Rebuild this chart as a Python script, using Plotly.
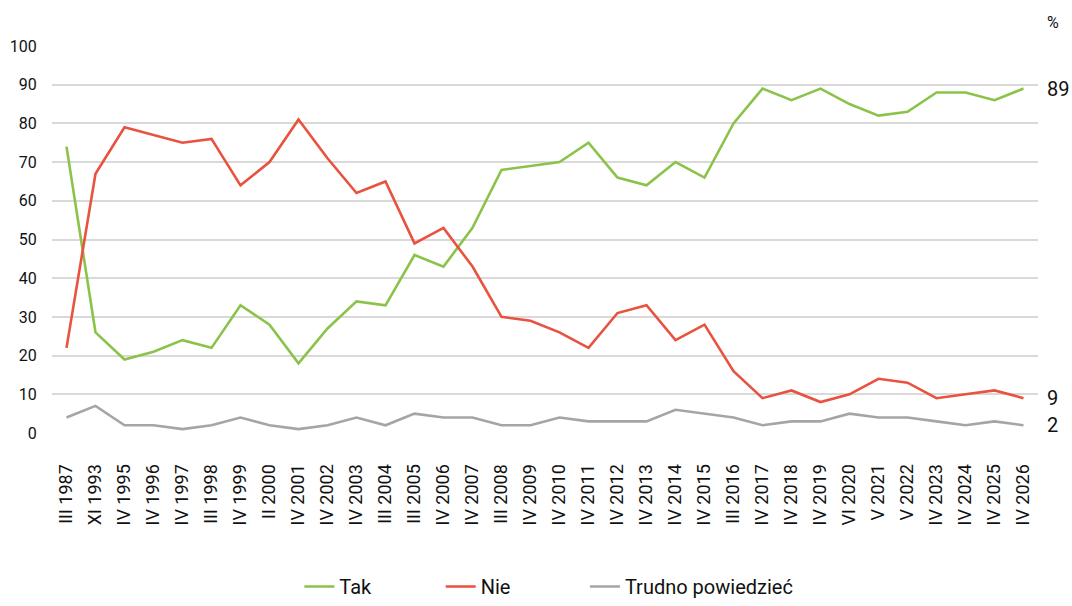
import plotly.graph_objects as go

categories = ["III 1987", "XI 1993", "IV 1995", "IV 1996", "IV 1997", "III 1998", "IV 1999",
              "II 2000", "IV 2001", "IV 2002", "IV 2003", "III 2004", "III 2005", "IV 2006",
              "IV 2007", "III 2008", "IV 2009", "IV 2010", "IV 2011", "IV 2012", "IV 2013",
              "IV 2014", "IV 2015", "III 2016", "IV 2017", "IV 2018", "IV 2019", "VI 2020",
              "V 2021", "V 2022", "IV 2023", "IV 2024", "IV 2025", "IV 2026"]
tak = [74, 26, 19, 21, 24, 22, 33, 28, 18, 27, 34, 33, 46, 43, 53, 68, 69, 70, 75, 66, 64,
       70, 66, 80, 89, 86, 89, 85, 82, 83, 88, 88, 86, 89]
nie = [22, 67, 79, 77, 75, 76, 64, 70, 81, 71, 62, 65, 49, 53, 43, 30, 29, 26, 22, 31, 33,
       24, 28, 16, 9, 11, 8, 10, 14, 13, 9, 10, 11, 9]
trudno = [4, 7, 2, 2, 1, 2, 4, 2, 1, 2, 4, 2, 5, 4, 4, 2, 2, 4, 3, 3, 3, 6, 5, 4, 2, 3, 3,
          5, 4, 4, 3, 2, 3, 2]
series_names = ["Tak", "Nie", "Trudno powiedzieć"]
y_ticks = [0, 10, 20, 30, 40, 50, 60, 70, 80, 90, 100]

colors = ["#8bc34a", "#e8523f", "#a5a5a5"]
legend_pad = [13, 14, 0]  # trailing non-breaking spaces to widen legend spacing
font = "Roboto"

fig = go.Figure()
for name, vals, col, pad in zip(series_names, [tak, nie, trudno], colors, legend_pad):
    fig.add_trace(go.Scatter(x=categories, y=vals, name=name + "\u00a0" * pad, mode="lines",
                             line=dict(color=col, width=2.6)))

for vals in [tak, nie, trudno]:
    fig.add_annotation(x=1.0, xref="paper", y=vals[-1], yref="y", text=str(vals[-1]),
                       showarrow=False, xanchor="left", xshift=7,
                       font=dict(family=font, size=20, color="#111111"))
fig.add_annotation(x=1.0, xref="paper", y=1.062, yref="paper", yanchor="middle",
                   text="%", showarrow=False, xanchor="left", xshift=7,
                   font=dict(family=font, size=16, color="#111111"))

fig.update_layout(
    width=1072, height=606,
    margin=dict(l=52, r=34, t=46, b=173),
    paper_bgcolor="white", plot_bgcolor="white",
    font=dict(family=font, size=16, color="#111111"),
    showlegend=True,
    legend=dict(orientation="h", x=0.512, xanchor="center", xref="container",
                y=0, yref="container", yanchor="bottom",
                font=dict(family=font, size=20, color="#111111"),
                tracegroupgap=0),
    xaxis=dict(type="category", range=[-0.5, len(categories) - 0.5], tickangle=-90,
               showgrid=False, zeroline=False, showline=False, automargin=False,
               ticks="outside", ticklen=23, tickcolor="rgba(0,0,0,0)",
               tickfont=dict(family=font, size=18, color="#111111")),
    yaxis=dict(range=[0, 100], tickvals=y_ticks, showgrid=True, gridcolor="#d9d9d9",
               gridwidth=2, zeroline=False, showline=False, automargin=False,
               ticks="outside", ticklen=11, tickcolor="rgba(0,0,0,0)",
               tickfont=dict(family=font, size=16, color="#111111")),
)
fig.write_html("out.html", config={"displayModeBar": False},
               post_script="document.body.style.margin='0';")
